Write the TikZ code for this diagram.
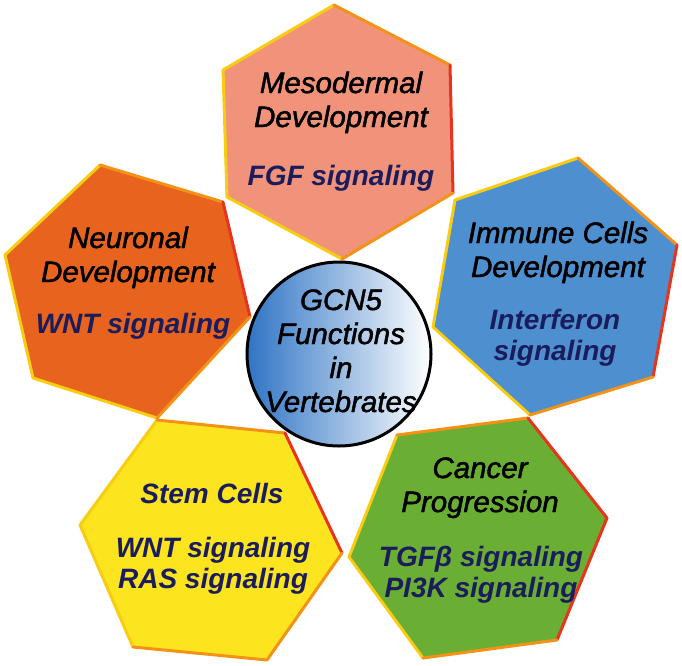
\documentclass[tikz,border=0pt]{standalone}
\usepackage{fontspec}
\setmainfont{Liberation Sans}
\usetikzlibrary{positioning}
\definecolor{mesofill}{HTML}{F0937A}
\definecolor{neurofill}{HTML}{E8641E}
\definecolor{immunefill}{HTML}{4D8FCF}
\definecolor{stemfill}{HTML}{FCE51E}
\definecolor{cancerfill}{HTML}{6AAE33}
\definecolor{rimyellow}{HTML}{F8CC10}
\definecolor{rimorange}{HTML}{F39217}
\definecolor{rimred}{HTML}{E8341C}
\definecolor{navy}{HTML}{1B1C5C}
\definecolor{ringblue}{HTML}{2F74C4}
\tikzset{
    rimy/.style={draw=rimyellow, line width=3pt, line join=round, line cap=round},
    rimo/.style={draw=rimorange, line width=3pt, line join=round, line cap=round},
    rimr/.style={draw=rimred, line width=3pt, line join=round, line cap=round}
}
\tikzset{
    title/.style={font=\fontsize{29.5}{34}\selectfont\itshape\addfontfeature{FakeBold=1.6},
    	align=center, anchor=base, text=black, inner sep=0pt},
    pathway/.style={font=\fontsize{28}{31}\selectfont\bfseries\itshape,
    	align=center, anchor=base, text=navy, inner sep=0pt}
}

\begin{document}
\begin{tikzpicture}[x=1pt,y=-1pt]
  \useasboundingbox (0,0) rectangle (682,665);
  % corners of the cells
  \coordinate (t1) at (334,5);   \coordinate (t2) at (450,65);
  \coordinate (t3) at (453,193); \coordinate (t4) at (342,259);
  \coordinate (t5) at (227,197); \coordinate (t6) at (223,70);
  \coordinate (n1) at (100,165); \coordinate (n2) at (223,202);
  \coordinate (n3) at (250,317); \coordinate (n4) at (157,418);
  \coordinate (n5) at (33,378);  \coordinate (n6) at (5,255);
  \coordinate (i1) at (578,158); \coordinate (i2) at (677,245);
  \coordinate (i3) at (653,377); \coordinate (i4) at (530,415);
  \coordinate (i5) at (433,327); \coordinate (i6) at (455,200);
  \coordinate (s1) at (157,420); \coordinate (s2) at (285,433);
  \coordinate (s3) at (342,553); \coordinate (s4) at (267,660);
  \coordinate (s5) at (133,647); \coordinate (s6) at (80,525);
  \coordinate (c1) at (397,435); \coordinate (c2) at (528,418);
  \coordinate (c3) at (607,518); \coordinate (c4) at (557,640);
  \coordinate (c5) at (423,658); \coordinate (c6) at (349,557);
  % mesodermal
  \fill[mesofill] (t1) -- (t2) -- (t3) -- (t4) -- (t5) -- (t6) -- cycle;
  \draw[rimy] (t4) -- (t5) -- (t6) -- (t1);
  \draw[rimo] (t1) -- (t2); \draw[rimr] (t2) -- (t3); \draw[rimo] (t3) -- (t4);
  % neuronal
  \fill[neurofill] (n1) -- (n2) -- (n3) -- (n4) -- (n5) -- (n6) -- cycle;
  \draw[rimy] (n4) -- (n5) -- (n6) -- (n1);
  \draw[rimo] (n1) -- (n2); \draw[rimr] (n2) -- (n3); \draw[rimo] (n3) -- (n4);
  % immune cells
  \fill[immunefill] (i1) -- (i2) -- (i3) -- (i4) -- (i5) -- (i6) -- cycle;
  \draw[rimy] (i4) -- (i5) -- (i6) -- (i1);
  \draw[rimo] (i1) -- (i2); \draw[rimr] (i2) -- (i3); \draw[rimo] (i3) -- (i4);
  % stem cells
  \fill[stemfill] (s1) -- (s2) -- (s3) -- (s4) -- (s5) -- (s6) -- cycle;
  \draw[rimy] (s5) -- (s6) -- (s1);
  \draw[rimo] (s1) -- (s2); \draw[rimr] (s2) -- (s3); \draw[rimo] (s3) -- (s4) -- (s5);
  % cancer
  \fill[cancerfill] (c1) -- (c2) -- (c3) -- (c4) -- (c5) -- (c6) -- cycle;
  \draw[rimy] (c5) -- (c6) -- (c1);
  \draw[rimo] (c1) -- (c2); \draw[rimr] (c2) -- (c3) -- (c4); \draw[rimo] (c4) -- (c5);
  % centre
  \node (gcnring) [circle, draw=black, line width=3pt, minimum size=184pt,
  	left color=ringblue, right color=white, shading angle=90,
  	inner sep=0pt] at (339,354) {};
  \node[title] (gcn) at (341,412) {GCN5\\Functions\\in\\Vertebrates};
  % texts (base = last line)
  \node[title] (mesoT) at (341,127) {Mesodermal\\Development};
  \node[pathway] (mesoP) at (341,185) {FGF signaling};
  \node[title] (neuroT) at (128,282) {Neuronal\\Development};
  \node[pathway] (neuroP) at (133,333) {WNT signaling};
  \node[title] (immuneT) at (558,277) {Immune Cells\\Development};
  \node[pathway] (immuneP) at (555,360) {Interferon\\signaling};
  \node[pathway] (stemT) at (212,503) {Stem Cells};
  \node[pathway] (stemP) at (213,588) {WNT signaling\\RAS signaling};
  \node[title] (cancerT) at (480,512) {Cancer\\Progression};
  \node[pathway] (cancerP) at (481,597) {TGFβ signaling\\PI3K signaling};
\end{tikzpicture}
\end{document}
